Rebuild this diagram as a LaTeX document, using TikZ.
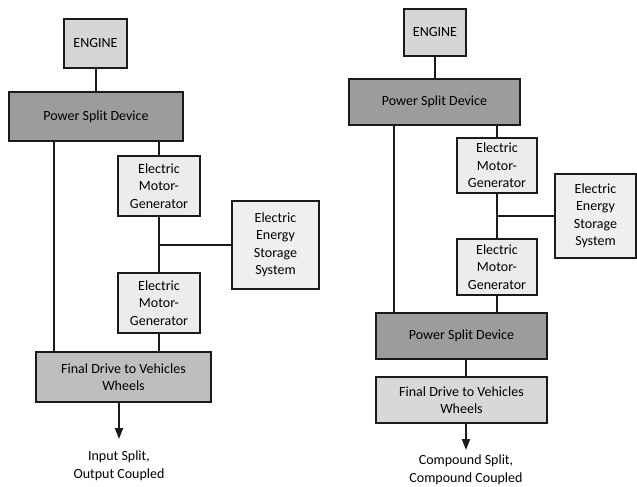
\documentclass[tikz,border=0pt]{standalone}
\usepackage{fontspec}
\setmainfont{Carlito}
\usetikzlibrary{arrows.meta}

\definecolor{engfill}{HTML}{D6D6D6}
\definecolor{psdfill}{HTML}{9C9C9C}
\definecolor{fdfill}{HTML}{BEBEBE}
\definecolor{fdlight}{HTML}{D8D8D8}
\definecolor{emgfill}{HTML}{ECECEC}
\definecolor{storefill}{HTML}{EFEFEF}
\definecolor{inkline}{HTML}{1A1A1A}

\tikzset{
  unit/.style={draw=inkline, line width=1.4pt, align=center, inner sep=0pt,
    font=\fontsize{14}{17.5}\selectfont, text=black},
  engbox/.style={unit, fill=engfill},
  psdbox/.style={unit, fill=psdfill},
  fdbox/.style={unit, fill=fdfill},
  fdlightbox/.style={unit, fill=fdlight},
  emgbox/.style={unit, fill=emgfill},
  storebox/.style={unit, fill=storefill},
  shaft/.style={draw=inkline, line width=2pt},
  output/.style={shaft, -{Triangle[length=11pt,width=8pt]}},
  caption/.style={align=center, font=\fontsize{14}{17.5}\selectfont}
}

\begin{document}
\begin{tikzpicture}[x=1pt, y=-1pt]
  \useasboundingbox (0,0) rectangle (637,487);
  \fill[white] (0,0) rectangle (637,487);

  % ---- Input split, output coupled ----
  \node[engbox, minimum width=63pt, minimum height=49pt] (eng1) at (95.5,43.5) {ENGINE};
  \node[psdbox, minimum width=174pt, minimum height=49pt] (psd1) at (96,116.5) {Power Split Device};
  \node[emgbox, minimum width=82pt, minimum height=60pt] (mgA1) at (159,186) {Electric\\Motor-\\Generator};
  \node[storebox, minimum width=87pt, minimum height=88pt] (ess1) at (275.5,245) {Electric\\Energy\\Storage\\System};
  \node[emgbox, minimum width=82pt, minimum height=60pt] (mgB1) at (159,303) {Electric\\Motor-\\Generator};
  \node[fdbox, minimum width=175pt, minimum height=50pt] (fd1) at (123.5,377) {Final Drive to Vehicles\\Wheels};
  \coordinate (mech1) at (54,0);
  \coordinate (out1) at (119,439);
  \node[caption] (cap1) at (119,466) {Input Split,\\Output Coupled};

  \draw[shaft] (eng1.south) -- (eng1.south |- psd1.north);
  \draw[shaft] (psd1.south -| mech1) -- (fd1.north -| mech1);
  \draw[shaft] (mgA1.north |- psd1.south) -- (mgA1.north);
  \draw[shaft] (mgA1.south) -- (mgB1.north);
  \draw[shaft] (ess1.west -| mgA1.south) -- (ess1.west);
  \draw[shaft] (mgB1.south) -- (mgB1.south |- fd1.north);
  \draw[output] (fd1.south -| out1) -- (out1);

  % ---- Compound split, compound coupled ----
  \node[engbox, minimum width=62pt, minimum height=47pt] (eng2) at (435,32.5) {ENGINE};
  \node[psdbox, minimum width=171pt, minimum height=46pt] (psd2) at (434.5,102) {Power Split Device};
  \node[emgbox, minimum width=80pt, minimum height=55pt] (mgA2) at (497,165.5) {Electric\\Motor-\\Generator};
  \node[storebox, minimum width=81pt, minimum height=84pt] (ess2) at (595.5,216) {Electric\\Energy\\Storage\\System};
  \node[emgbox, minimum width=80pt, minimum height=56pt] (mgB2) at (497,267) {Electric\\Motor-\\Generator};
  \node[psdbox, minimum width=171pt, minimum height=46pt] (psd3) at (461.5,336) {Power Split Device};
  \node[fdlightbox, minimum width=171pt, minimum height=46pt] (fd2) at (461.5,400) {Final Drive to Vehicles\\Wheels};
  \coordinate (mech2) at (394,0);
  \coordinate (out2) at (466,450);
  \node[caption] (cap2) at (466,470) {Compound Split,\\Compound Coupled};

  \draw[shaft] (eng2.south) -- (eng2.south |- psd2.north);
  \draw[shaft] (psd2.south -| mech2) -- (psd3.north -| mech2);
  \draw[shaft] (mgA2.north |- psd2.south) -- (mgA2.north);
  \draw[shaft] (mgA2.south) -- (mgB2.north);
  \draw[shaft] (ess2.west -| mgA2.south) -- (ess2.west);
  \draw[shaft] (mgB2.south) -- (mgB2.south |- psd3.north);
  \draw[shaft] (psd3.south -| out2) -- (fd2.north -| out2);
  \draw[output] (fd2.south -| out2) -- (out2);
\end{tikzpicture}
\end{document}
